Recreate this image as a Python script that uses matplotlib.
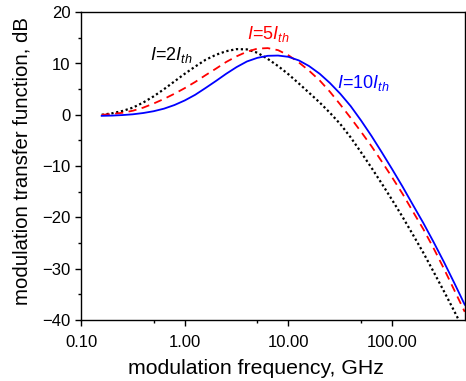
'''
Modulation transfer function vs frequency
three pump levels I = 2, 5, 10 Ith
'''

import matplotlib
matplotlib.use('Agg')
import matplotlib.pyplot as plt
from matplotlib.ticker import FixedLocator, NullFormatter

# donnees (frequence en GHz, reponse en dB)
freq = [0.158, 0.2, 0.251, 0.316, 0.398, 0.501, 0.631, 0.794, 1.0, 1.26, 1.58, 2.0,
        2.51, 3.16, 3.98, 5.01, 6.31, 7.94, 10.0, 12.6, 15.8, 20.0, 25.1, 31.6,
        39.8, 50.1, 63.1, 79.4, 100, 126, 158, 200, 251, 316, 398, 501]

tf_2ith = [0.0, 0.3, 0.75, 1.4, 2.4, 3.6, 5.0, 6.5, 8.0, 9.4, 10.7, 11.7,
           12.4, 12.8, 12.75, 12.1, 10.9, 9.5, 7.9, 6.1, 4.3, 2.4, 0.4, -1.8,
           -4.4, -7.3, -10.3, -13.4, -16.6, -19.9, -23.3, -26.9, -30.6, -34.4, -38.3, -42.3]

tf_5ith = [0.0, 0.15, 0.4, 0.8, 1.4, 2.2, 3.1, 4.1, 5.2, 6.4, 7.7, 9.0,
           10.3, 11.4, 12.3, 12.9, 13.0, 12.6, 11.6, 10.2, 8.6, 6.7, 4.5, 2.0,
           -0.6, -3.3, -6.1, -9.1, -12.2, -15.4, -18.8, -22.3, -26.0, -30.0, -34.2, -38.4]

tf_10ith = [-0.2, -0.15, -0.05, 0.1, 0.35, 0.7, 1.2, 1.9, 2.8, 3.9, 5.2, 6.6,
            8.0, 9.3, 10.4, 11.1, 11.5, 11.55, 11.3, 10.6, 9.5, 8.0, 6.2, 4.1,
            1.7, -1.1, -4.1, -7.3, -10.6, -14.0, -17.5, -21.1, -24.8, -28.7, -32.8, -37.0]

xticks = [0.1, 1, 10, 100]
xticklabels = ['0.10', '1.00', '10.00', '100.00']
xminor = [0.5, 5, 50]
yticks = [-40, -30, -20, -10, 0, 10, 20]
yminor = [-35, -25, -15, -5, 5, 15]

plt.rcParams['font.family'] = ['Liberation Sans', 'DejaVu Sans']
plt.rcParams['mathtext.fontset'] = 'custom'
plt.rcParams['mathtext.rm'] = 'Liberation Sans'
plt.rcParams['mathtext.it'] = 'Liberation Sans:italic'

fig = plt.figure(figsize=(4.66, 3.81), dpi=100)
ax = fig.add_axes([0.174, 0.160, 0.824, 0.808])

# courbes
ax.plot(freq, tf_2ith, color='black', lw=1.6, linestyle=(0, (1, 1.2)))
ax.plot(freq, tf_5ith, color='#ff0000', lw=1.3, linestyle=(0, (4.5, 3)))
ax.plot(freq, tf_10ith, color='#0000ff', lw=1.3)

ax.set_xscale('log')
ax.set_xlim(0.1, 505)
ax.set_ylim(-40, 20)

ax.xaxis.set_major_locator(FixedLocator(xticks))
ax.set_xticklabels(xticklabels)
ax.xaxis.set_minor_locator(FixedLocator(xminor))
ax.xaxis.set_minor_formatter(NullFormatter())
ax.set_yticks(yticks)
ax.yaxis.set_minor_locator(FixedLocator(yminor))

ax.tick_params(which='both', direction='out', labelsize=12, top=False, right=False)
ax.tick_params(which='major', length=4.0, width=1.0)
ax.tick_params(which='minor', length=2.0, width=1.0)
ax.tick_params(axis='x', which='major', pad=7)
for s in ax.spines.values():
    s.set_linewidth(1.0)

ax.set_xlabel('modulation frequency, GHz', fontsize=15.3)
ax.set_ylabel('modulation transfer function, dB', fontsize=14.7)
# le titre de l'axe x est un peu decale vers la gauche sur l'original
ax.xaxis.set_label_coords(0.456, -0.125)
ax.yaxis.set_label_coords(-0.13, 0.515)

# etiquettes des courbes
ax.text(0.46, 10.7, r'$I$=2$I_{th}$', color='black', fontsize=13)
ax.text(4.0, 14.7, r'$I$=5$I_{th}$', color='#ff0000', fontsize=13)
ax.text(29.4, 5.3, r'$I$=10$I_{th}$', color='#0000ff', fontsize=13)

plt.savefig('out.png', dpi=100)
